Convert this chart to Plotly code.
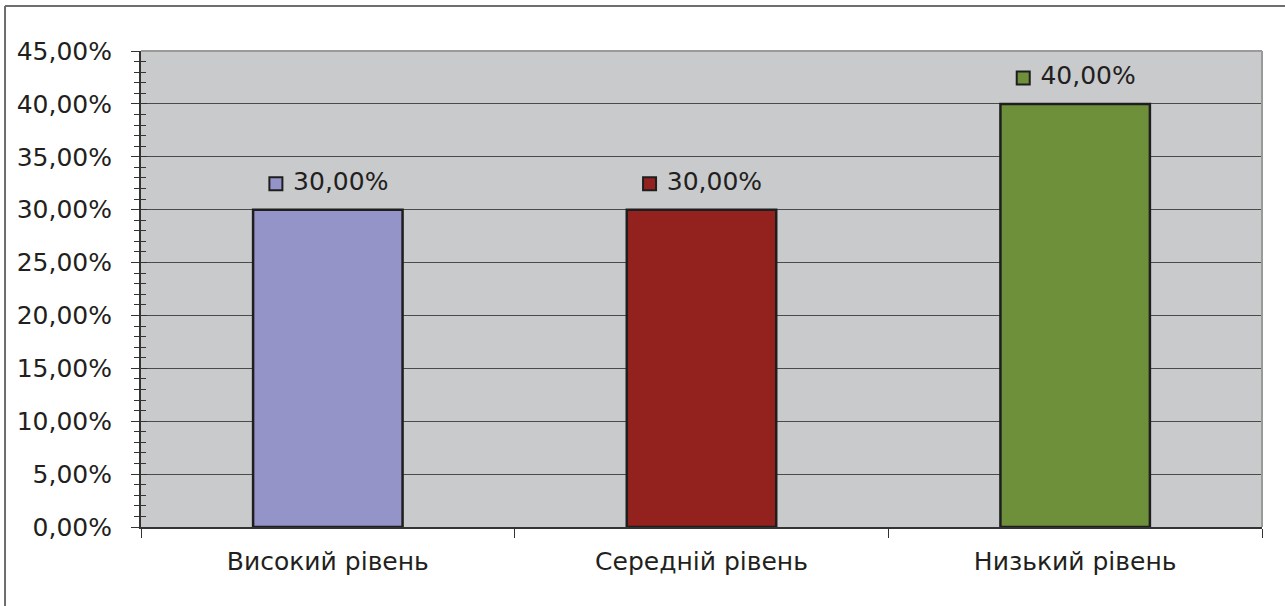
import plotly.graph_objects as go

categories = ["Високий рівень", "Середній рівень", "Низький рівень"]
values = [30.0, 30.0, 40.0]
colors = ["#9494c8", "#93221f", "#6f903a"]
y_ticks = [0, 5, 10, 15, 20, 25, 30, 35, 40, 45]

def pct(v):
    return f"{v:.2f}".replace(".", ",") + "%"

xs = list(range(len(categories)))
FONT = "DejaVu Sans"
FS = 25

fig = go.Figure()
fig.add_trace(go.Bar(
    x=xs, y=values, width=0.4,
    marker=dict(color=colors, line=dict(color="#1e1e1e", width=2.5)),
    hoverinfo="skip", showlegend=False,
))
# data label keys (small squares)
fig.add_trace(go.Scatter(
    x=[x - 0.139 for x in xs], y=[v + 2.45 for v in values], mode="markers",
    marker=dict(symbol="square", size=13, color=colors, line=dict(color="#1e1e1e", width=2)),
    hoverinfo="skip", showlegend=False,
))
# data label texts
fig.add_trace(go.Scatter(
    x=[x - 0.093 for x in xs], y=[v + 2.45 for v in values], mode="text",
    text=[pct(v) for v in values], textposition="middle right",
    textfont=dict(family=FONT, size=FS, color="#231f20"),
    hoverinfo="skip", showlegend=False,
))
# invisible trace for overlay axis (inside ticks)
fig.add_trace(go.Scatter(x=[0], y=[0], yaxis="y2", mode="markers",
                         marker=dict(opacity=0), hoverinfo="skip", showlegend=False))

fig.update_layout(
    width=1285, height=606,
    margin=dict(l=141, r=23, t=51, b=79),
    paper_bgcolor="white", plot_bgcolor="#c9cacc",
    font=dict(family=FONT, size=FS, color="#231f20"),
    xaxis=dict(
        range=[-0.5, 2.5], tickmode="array", tickvals=xs, ticktext=categories,
        ticks="", showgrid=False, zeroline=False,
        showline=True, linecolor="#333333", linewidth=2,
        ticklabelstandoff=11,
        minor=dict(tickmode="array", tickvals=[-0.5, 0.5, 1.5, 2.5], ticks="outside",
                   ticklen=9, tickcolor="#333333", tickwidth=1, showgrid=False),
        tickfont=dict(family=FONT, size=FS, color="#231f20"),
    ),
    yaxis=dict(
        range=[0, 45], tickmode="array", tickvals=y_ticks,
        ticktext=[pct(v) for v in y_ticks],
        ticks="outside", ticklen=8, tickcolor="#333333", tickwidth=1,
        showgrid=True, gridcolor="#4a4a4a", gridwidth=1, zeroline=False,
        showline=True, linecolor="#333333", linewidth=2,
        minor=dict(dtick=1, tick0=0, ticks="outside", ticklen=5, tickcolor="#333333", showgrid=False),
        ticklabelstandoff=14,
        tickfont=dict(family=FONT, size=FS, color="#231f20"),
    ),
    yaxis2=dict(
        overlaying="y", side="left", range=[0, 45], tickmode="linear", tick0=0, dtick=5,
        ticks="inside", ticklen=6, tickcolor="#333333", tickwidth=1,
        showticklabels=False, showgrid=False, zeroline=False, showline=False,
        minor=dict(dtick=1, tick0=0, ticks="inside", ticklen=5, tickcolor="#333333", showgrid=False),
    ),
    shapes=[
        # plot area top/right border (gray)
        dict(type="line", xref="paper", yref="paper", x0=0, x1=1, y0=1, y1=1,
             line=dict(color="#9a9a9a", width=2)),
        dict(type="line", xref="paper", yref="paper", x0=1, x1=1, y0=0, y1=1,
             line=dict(color="#9a9a9a", width=2)),
        # outer frame (left and top)
        dict(type="line", xref="paper", yref="paper", x0=-0.1213, x1=1.03, y0=1.0945, y1=1.0945,
             line=dict(color="#6e6e6e", width=2)),
        dict(type="line", xref="paper", yref="paper", x0=-0.1213, x1=-0.1213, y0=-0.2, y1=1.0945,
             line=dict(color="#6e6e6e", width=2)),
    ],
)

fig.write_html("out.html", config={"displayModeBar": False},
               post_script="document.body.style.margin='0px';document.body.style.overflow='hidden';")
